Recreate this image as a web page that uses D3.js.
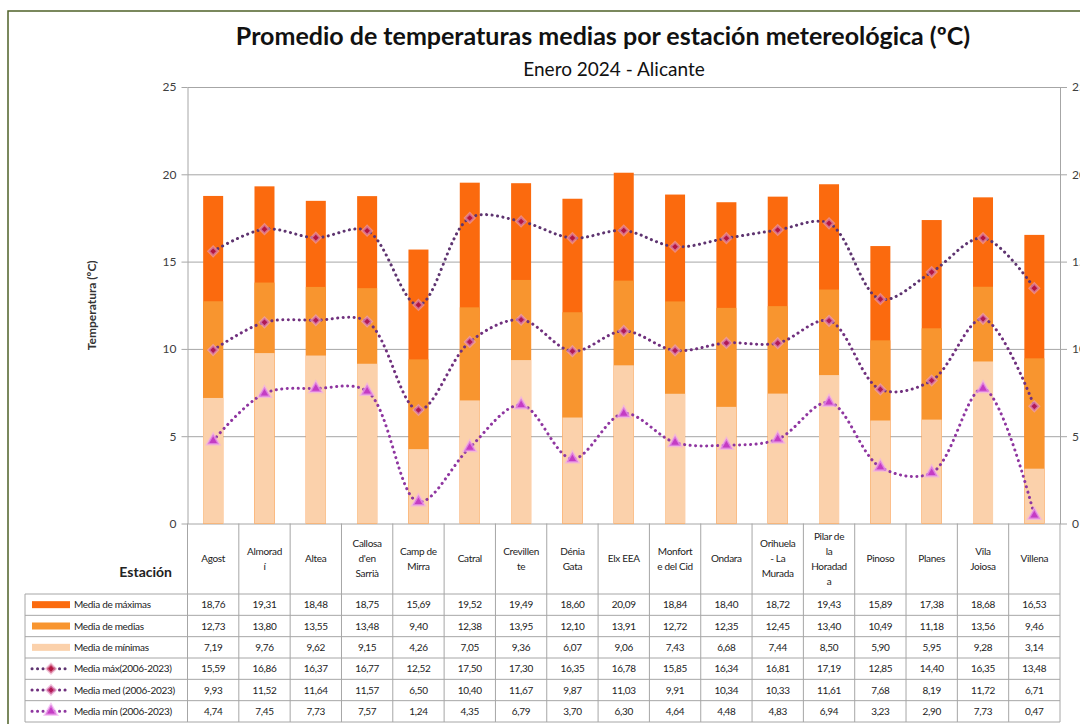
<!DOCTYPE html>
<html>
<head>
<meta charset="utf-8">
<script src="https://cdn.jsdelivr.net/npm/d3@7"></script>
<style>
  body { margin: 0; background: #fff; }
  text { font-family: Lato, "Open Sans", sans-serif; }
</style>
</head>
<body>
<div id="vis"></div>
<script>

// chart data
const stations = ["Agost", "Almoradí", "Altea", "Callosa d'en Sarrià", "Camp de Mirra", "Catral",
  "Crevillente", "Dénia Gata", "Elx EEA", "Monforte del Cid", "Ondara", "Orihuela - La Murada",
  "Pilar de la Horadada", "Pinoso", "Planes", "Vila Joiosa", "Villena"];
// how the names wrap inside the table header
const stationLines = [["Agost"], ["Almorad", "í"], ["Altea"], ["Callosa", "d'en", "Sarrià"],
  ["Camp de", "Mirra"], ["Catral"], ["Crevillen", "te"], ["Dénia", "Gata"], ["Elx EEA"],
  ["Monfort", "e del Cid"], ["Ondara"], ["Orihuela", "- La", "Murada"],
  ["Pilar de", "la", "Horadad", "a"], ["Pinoso"], ["Planes"], ["Vila", "Joiosa"], ["Villena"]];

const mediaMaximas = [18.76, 19.31, 18.48, 18.75, 15.69, 19.52, 19.49, 18.60, 20.09, 18.84, 18.40, 18.72, 19.43, 15.89, 17.38, 18.68, 16.53];
const mediaMedias  = [12.73, 13.80, 13.55, 13.48, 9.40, 12.38, 13.95, 12.10, 13.91, 12.72, 12.35, 12.45, 13.40, 10.49, 11.18, 13.56, 9.46];
const mediaMinimas = [7.19, 9.76, 9.62, 9.15, 4.26, 7.05, 9.36, 6.07, 9.06, 7.43, 6.68, 7.44, 8.50, 5.90, 5.95, 9.28, 3.14];
const maxHist = [15.59, 16.86, 16.37, 16.77, 12.52, 17.50, 17.30, 16.35, 16.78, 15.85, 16.34, 16.81, 17.19, 12.85, 14.40, 16.35, 13.48];
const medHist = [9.93, 11.52, 11.64, 11.57, 6.50, 10.40, 11.67, 9.87, 11.03, 9.91, 10.34, 10.33, 11.61, 7.68, 8.19, 11.72, 6.71];
const minHist = [4.74, 7.45, 7.73, 7.57, 1.24, 4.35, 6.79, 3.70, 6.30, 4.64, 4.48, 4.83, 6.94, 3.23, 2.90, 7.73, 0.47];

const yTicks = [0, 5, 10, 15, 20, 25];

const seriesNames = ["Media de máximas", "Media de medias", "Media de mínimas",
  "Media máx(2006-2023)", "Media med (2006-2023)", "Media mín (2006-2023)"];

// frame
const FRAME_WIDTH = 1080;
const FRAME_HEIGHT = 724;
const PLOT = {left: 187.5, right: 1060, top: 87, bottom: 523.5};
const TABLE = {left: 25, headBottom: 594, bottom: 722};

const svg = d3.select("#vis")
  .append("svg")
    .attr("width", FRAME_WIDTH)
    .attr("height", FRAME_HEIGHT);

// green outer border of the excel chart
svg.append("rect")
  .attr("x", 8).attr("y", 11)
  .attr("width", 1100).attr("height", 760)
  .attr("fill", "#fff")
  .attr("stroke", "#4f6228")
  .attr("stroke-width", 1.5);

const X_SCALE = d3.scaleBand()
  .domain(stations)
  .range([PLOT.left, PLOT.right])
  .padding(0);

const Y_SCALE = d3.scaleLinear()
  .domain([0, 25])
  .range([PLOT.bottom, PLOT.top]);

// gridlines
svg.append("g")
  .attr("transform", "translate(" + PLOT.left + ",0)")
  .call(d3.axisLeft(Y_SCALE).tickValues(yTicks).tickSize(-(PLOT.right - PLOT.left)).tickFormat(""))
  .call(g => g.select(".domain").remove())
  .call(g => g.selectAll("line").attr("stroke", "#a6a6a6"));

// left axis
svg.append("g")
  .attr("transform", "translate(" + PLOT.left + ",0)")
  .call(d3.axisLeft(Y_SCALE).tickValues(yTicks).tickSize(6).tickSizeOuter(0).tickPadding(5))
  .call(g => g.select(".domain").attr("stroke", "#a6a6a6"))
  .call(g => g.selectAll("line").attr("stroke", "#a6a6a6"))
  .call(g => g.selectAll("text").attr("font-size", 12).attr("fill", "#404040")
    .attr("font-family", "Lato, sans-serif"));

// right axis (the picture edge cuts it, as in the original)
svg.append("g")
  .attr("transform", "translate(" + PLOT.right + ",0)")
  .call(d3.axisRight(Y_SCALE).tickValues(yTicks).tickSize(7).tickSizeOuter(0).tickPadding(5))
  .call(g => g.select(".domain").attr("stroke", "#a6a6a6"))
  .call(g => g.selectAll("line").attr("stroke", "#a6a6a6"))
  .call(g => g.selectAll("text").attr("font-size", 12).attr("fill", "#404040")
    .attr("font-family", "Lato, sans-serif"));

// bars overlap: max behind, then medias, then minimas in front
const BAR_W = 20;
const barLayers = [
  {values: mediaMaximas, color: "#fb6a0e"},
  {values: mediaMedias, color: "#f8952f"},
  {values: mediaMinimas, color: "#fbd1ab"}
];
barLayers.forEach(layer => {
  svg.append("g").selectAll("rect")
    .data(stations)
    .enter()
    .append("rect")
      .attr("x", d => X_SCALE(d) + X_SCALE.bandwidth() / 2 - BAR_W / 2)
      .attr("y", (d, i) => Y_SCALE(layer.values[i]))
      .attr("width", BAR_W)
      .attr("height", (d, i) => PLOT.bottom - Y_SCALE(layer.values[i]))
      .attr("fill", layer.color);
});

// smoothed dotted lines
const lineLayers = [
  {values: maxHist, stroke: "#5e3470", marker: "#b3163f", glow: "#e8a0c0", shape: "diamond"},
  {values: medHist, stroke: "#70307e", marker: "#b01a55", glow: "#e8a0d0", shape: "diamond"},
  {values: minHist, stroke: "#8f36a0", marker: "#c43cc4", glow: "#f0a8f0", shape: "triangle"}
];

const cx = d => X_SCALE(d) + X_SCALE.bandwidth() / 2;

function markerPath(shape) {
  if (shape === "triangle") return d3.symbol(d3.symbolTriangle, 60)();
  return d3.symbol(d3.symbolSquare, 42)();
}

lineLayers.forEach(layer => {
  const line = d3.line()
    .x((d, i) => cx(stations[i]))
    .y(d => Y_SCALE(d))
    .curve(d3.curveCatmullRom.alpha(0.5));

  svg.append("path")
    .datum(layer.values)
    .attr("d", line)
    .attr("fill", "none")
    .attr("stroke", layer.stroke)
    .attr("stroke-width", 3)
    .attr("stroke-linecap", "round")
    .attr("stroke-dasharray", "0.1 5.4");

  svg.append("g").selectAll("path")
    .data(layer.values)
    .enter()
    .append("path")
      .attr("d", markerPath(layer.shape))
      .attr("transform", (d, i) => "translate(" + cx(stations[i]) + "," + Y_SCALE(d) + ")" +
        (layer.shape === "diamond" ? " rotate(45)" : ""))
      .attr("fill", layer.marker)
      .attr("stroke", layer.glow)
      .attr("stroke-opacity", 0.6)
      .attr("stroke-width", 2.5);
});

// titles
svg.append("text")
  .attr("x", 603).attr("y", 45)
  .attr("text-anchor", "middle")
  .attr("font-size", 25).attr("font-weight", "bold").attr("fill", "#111")
  .text("Promedio de temperaturas medias por estación metereológica (ºC)");

svg.append("text")
  .attr("x", 614).attr("y", 76)
  .attr("text-anchor", "middle")
  .attr("font-size", 19).attr("fill", "#111")
  .text("Enero 2024 - Alicante");

svg.append("text")
  .attr("transform", "translate(96," + ((PLOT.top + PLOT.bottom) / 2) + ") rotate(-90)")
  .attr("text-anchor", "middle")
  .attr("font-size", 12).attr("font-weight", "bold").attr("fill", "#333")
  .text("Temperatura (ºC)");

// ---- data table under the chart ----
const rowData = [mediaMaximas, mediaMedias, mediaMinimas, maxHist, medHist, minHist];
const ROW_H = (TABLE.bottom - TABLE.headBottom) / rowData.length;
const gridColor = "#a6a6a6";
const table = svg.append("g");

// header column lines
const colEdges = stations.map(s => X_SCALE(s)).concat([PLOT.right]);
table.selectAll("line.col")
  .data(colEdges)
  .enter()
  .append("line")
    .attr("x1", d => d).attr("x2", d => d)
    .attr("y1", PLOT.bottom).attr("y2", TABLE.bottom)
    .attr("stroke", gridColor);

// row lines
const rowEdges = d3.range(rowData.length + 1).map(i => TABLE.headBottom + i * ROW_H);
table.selectAll("line.row")
  .data(rowEdges)
  .enter()
  .append("line")
    .attr("x1", TABLE.left).attr("x2", PLOT.right)
    .attr("y1", d => d).attr("y2", d => d)
    .attr("stroke", gridColor);

table.append("line")
  .attr("x1", TABLE.left).attr("x2", TABLE.left)
  .attr("y1", TABLE.headBottom).attr("y2", TABLE.bottom)
  .attr("stroke", gridColor);

// station names
const headMid = (PLOT.bottom + TABLE.headBottom) / 2;
stations.forEach((s, i) => {
  const lines = stationLines[i];
  const t = table.append("text")
    .attr("text-anchor", "middle")
    .attr("font-size", 10).attr("fill", "#222")
    .attr("letter-spacing", -0.3);
  lines.forEach((ln, j) => {
    t.append("tspan")
      .attr("x", cx(s))
      .attr("y", headMid + (j - (lines.length - 1) / 2) * 15 + 3.5)
      .text(ln);
  });
});

table.append("text")
  .attr("x", 172).attr("y", 577)
  .attr("text-anchor", "end")
  .attr("font-size", 14).attr("font-weight", "bold").attr("fill", "#222")
  .text("Estación");

// values
const fmt = v => d3.format(".2f")(v).replace(".", ",");
rowData.forEach((vals, r) => {
  table.append("g").selectAll("text")
    .data(vals)
    .enter()
    .append("text")
      .attr("x", (d, i) => cx(stations[i]))
      .attr("y", TABLE.headBottom + r * ROW_H + ROW_H / 2 + 3.5)
      .attr("text-anchor", "middle")
      .attr("font-size", 10).attr("fill", "#222")
      .attr("letter-spacing", -0.3)
      .text(d => fmt(d));
});

// legend keys in the first column
const KEY_X0 = 32, KEY_X1 = 70;
seriesNames.forEach((name, r) => {
  const yMid = TABLE.headBottom + r * ROW_H + ROW_H / 2;
  if (r < 3) {
    table.append("rect")
      .attr("x", KEY_X0).attr("y", yMid - 3.5)
      .attr("width", KEY_X1 - KEY_X0).attr("height", 7)
      .attr("fill", barLayers[r].color);
  } else {
    const L = lineLayers[r - 3];
    table.append("line")
      .attr("x1", KEY_X0).attr("x2", KEY_X1)
      .attr("y1", yMid).attr("y2", yMid)
      .attr("stroke", L.stroke).attr("stroke-width", 3)
      .attr("stroke-linecap", "round").attr("stroke-dasharray", "0.1 5.4");
    table.append("path")
      .attr("d", markerPath(L.shape))
      .attr("transform", "translate(" + ((KEY_X0 + KEY_X1) / 2) + "," + yMid + ")" +
        (L.shape === "diamond" ? " rotate(45)" : ""))
      .attr("fill", L.marker)
      .attr("stroke", L.glow).attr("stroke-opacity", 0.6).attr("stroke-width", 2.5);
  }
  table.append("text")
    .attr("x", 74).attr("y", yMid + 3.5)
    .attr("font-size", 10).attr("fill", "#222")
    .attr("letter-spacing", -0.3)
    .text(name);
});

</script>
</body>
</html>
